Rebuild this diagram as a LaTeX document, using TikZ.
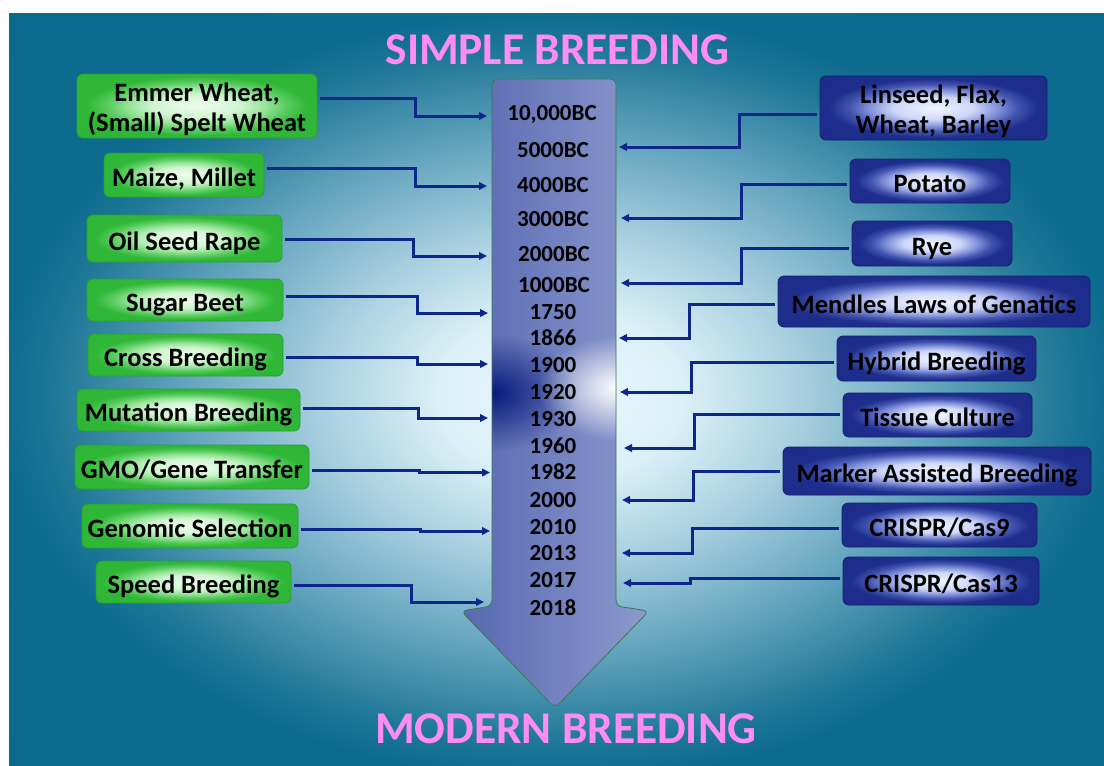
\documentclass[tikz,border=0pt]{standalone}
\usepackage{fontspec}
\setmainfont{Carlito}
\usetikzlibrary{arrows.meta,fadings}
\definecolor{titlepink}{RGB}{255,140,240}
\definecolor{connblue}{RGB}{12,38,138}
\definecolor{arrL}{RGB}{88,104,176}
\definecolor{arrR}{RGB}{140,154,206}
\definecolor{arrEdge}{RGB}{60,120,75}
\definecolor{spotdark}{RGB}{10,28,125}
\definecolor{gEdge}{RGB}{40,160,50}
\definecolor{bEdge}{RGB}{20,32,110}
\pgfdeclareradialshading{bgrad}{\pgfpointorigin}{rgb(0bp)=(0.92,0.98,1.0); rgb(5.5bp)=(0.86,0.94,0.97); rgb(10.5bp)=(0.67,0.82,0.88); rgb(16.5bp)=(0.40,0.65,0.75); rgb(22.5bp)=(0.12,0.47,0.59); rgb(25bp)=(0.05,0.42,0.56); rgb(50bp)=(0.04,0.40,0.55)}
\pgfdeclareradialshading{greenrad}{\pgfpointorigin}{rgb(0bp)=(0.93,0.99,0.93); rgb(9bp)=(0.82,0.96,0.82); rgb(14bp)=(0.60,0.90,0.61); rgb(18.5bp)=(0.36,0.80,0.38); rgb(23bp)=(0.19,0.72,0.22); rgb(50bp)=(0.17,0.70,0.20)}
\pgfdeclareradialshading{bluerad}{\pgfpointorigin}{rgb(0bp)=(0.94,0.96,1.0); rgb(9bp)=(0.80,0.84,0.97); rgb(14bp)=(0.52,0.58,0.86); rgb(18.5bp)=(0.26,0.33,0.69); rgb(23bp)=(0.12,0.18,0.55); rgb(50bp)=(0.10,0.16,0.52)}
\tikzfading[name=spotfade, inner color=transparent!0, outer color=transparent!100]
\tikzset{
  boxfont/.style={font=\fontsize{26.5}{30}\selectfont\bfseries, text=black, align=center},
  oneline/.style={text height=23pt, text depth=0pt},
  gbox/.style={boxfont, shade, shading=greenrad, draw=gEdge, line width=0.8pt, rounded corners=6pt, inner sep=0pt},
  bbox/.style={boxfont, shade, shading=bluerad, draw=bEdge, line width=0.8pt, rounded corners=6pt, inner sep=0pt},
  yr/.style={font=\fontsize{23}{25}\selectfont\bfseries, text=black, inner sep=0pt},
  titletext/.style={font=\fontsize{45.4}{50}\selectfont\bfseries, text=titlepink, inner sep=0pt, anchor=base},
  conn/.style={draw=connblue, line width=3pt, -{Stealth[length=8pt,width=7.5pt,inset=0pt]}, shorten <=3pt}
}
\newcommand{\topstrut}{\rule{0pt}{27pt}}
\newcommand{\botstrut}{\rule[-6pt]{0pt}{6pt}}
\def\arrowpath{(554,79) -- (616,79) -- (616,606) -- (649,611) -- (555,708) -- (461,611) -- (492,606) -- (492,79) -- cycle}
\begin{document}
\begin{tikzpicture}[x=1pt,y=-1pt]
\useasboundingbox (0,0) rectangle (1104,766);
\fill[white] (0,0) rectangle (1104,766);
% background
\begin{scope}
  \clip (9,13) rectangle (1104,766);
  \shade[shading=bgrad] (0,10) rectangle (1120,780);
\end{scope}
% big arrow
\shade[left color=arrL, right color=arrR, rounded corners=6pt] \arrowpath;
\begin{scope}
  \clip[rounded corners=6pt] \arrowpath;
  \fill[spotdark, path fading=spotfade] (494,393) ellipse [x radius=85, y radius=58];
  \fill[white, path fading=spotfade] (618,388) ellipse [x radius=80, y radius=52];
\end{scope}
\draw[arrEdge, line width=0.8pt, rounded corners=6pt] \arrowpath;
% titles
\node[titletext] (t1) at (557.5,64) {SIMPLE BREEDING};
\node[titletext] (t2) at (566,743) {MODERN BREEDING};
% years
\node[yr] (y1) at (552,115) {10,000BC};
\node[yr] (y2) at (553,150) {5000BC};
\node[yr] (y3) at (553,185) {4000BC};
\node[yr] (y4) at (553,219) {3000BC};
\node[yr] (y5) at (554,254) {2000BC};
\node[yr] (y6) at (554,285) {1000BC};
\node[yr] (y7) at (553,312) {1750};
\node[yr] (y8) at (553,338) {1866};
\node[yr] (y9) at (553,365) {1900};
\node[yr] (y10) at (553,392) {1920};
\node[yr] (y11) at (553,419) {1930};
\node[yr] (y12) at (553,446) {1960};
\node[yr] (y13) at (553,472) {1982};
\node[yr] (y14) at (553,500) {2000};
\node[yr] (y15) at (553,527) {2010};
\node[yr] (y16) at (553,553) {2013};
\node[yr] (y17) at (553,580) {2017};
\node[yr] (y18) at (553,608) {2018};
% left boxes
\node[gbox, minimum width=240pt, minimum height=64pt] (g1) at (197,106) {\topstrut Emmer Wheat,\\(Small) Spelt Wheat\botstrut};
\node[gbox, oneline, minimum width=160pt, minimum height=44pt] (g2) at (184,175) {Maize, Millet};
\node[gbox, oneline, minimum width=195pt, minimum height=47pt] (g3) at (184.5,238.5) {Oil Seed Rape};
\node[gbox, oneline, minimum width=196pt, minimum height=42pt] (g4) at (185,300) {Sugar Beet};
\node[gbox, oneline, minimum width=195pt, minimum height=42pt] (g5) at (185.5,355) {Cross Breeding};
\node[gbox, oneline, minimum width=223pt, minimum height=42pt] (g6) at (188.5,410) {Mutation Breeding};
\node[gbox, oneline, minimum width=234pt, minimum height=44pt] (g7) at (192,467) {GMO/Gene Transfer};
\node[gbox, oneline, minimum width=216pt, minimum height=44pt] (g8) at (190,526) {Genomic Selection};
\node[gbox, oneline, minimum width=195pt, minimum height=42pt] (g9) at (193.5,582) {Speed Breeding};
% right boxes
\node[bbox, minimum width=227pt, minimum height=64pt] (b1) at (933.5,108) {\topstrut Linseed, Flax,\\Wheat, Barley\botstrut};
\node[bbox, oneline, minimum width=160pt, minimum height=44pt] (b2) at (930,181) {Potato};
\node[bbox, oneline, minimum width=160pt, minimum height=45pt] (b3) at (932,243.5) {Rye};
\node[bbox, oneline, minimum width=312pt, minimum height=51pt] (b4) at (934,301.5) {Mendles Laws of Genatics};
\node[bbox, oneline, minimum width=199pt, minimum height=45pt] (b5) at (936.5,358.5) {Hybrid Breeding};
\node[bbox, oneline, minimum width=189pt, minimum height=44pt] (b6) at (937.5,415) {Tissue Culture};
\node[bbox, oneline, minimum width=308pt, minimum height=48pt] (b7) at (937,471) {Marker Assisted Breeding};
\node[bbox, oneline, minimum width=195pt, minimum height=44pt] (b8) at (939.5,525) {CRISPR/Cas9};
\node[bbox, oneline, minimum width=196pt, minimum height=48pt] (b9) at (941,581) {CRISPR/Cas13};
% connector end points at the big arrow
\coordinate (l1) at (487,116);
\coordinate (l2) at (487,186);
\coordinate (l3) at (487,256);
\coordinate (l4) at (488,313);
\coordinate (l5) at (488,364);
\coordinate (l6) at (488,418);
\coordinate (l7) at (490,472.5);
\coordinate (l8) at (490,531);
\coordinate (l9) at (484,602);
\coordinate (r1) at (619,147);
\coordinate (r2) at (621,218);
\coordinate (r3) at (621,283);
\coordinate (r4) at (619,338);
\coordinate (r5) at (620,392);
\coordinate (r6) at (624,448);
\coordinate (r7) at (622,500);
\coordinate (r8) at (622,553);
\coordinate (r9) at (623,583);
% left connectors
\draw[conn] (g1.east |- 0,98.6) -- (415,98.6) |- (l1);
\draw[conn] (g2.east |- 0,168) -- (415,168) |- (l2);
\draw[conn] (g3.east |- 0,239) -- (413,239) |- (l3);
\draw[conn] (g4.east |- 0,296) -- (417,296) |- (l4);
\draw[conn] (g5.east |- 0,357) -- (417,357) |- (l5);
\draw[conn] (g6.east |- 0,408) -- (418,408) |- (l6);
\draw[conn] (g7.east |- 0,470) -- (419,470) |- (l7);
\draw[conn] (g8.east |- 0,529.5) -- (420,529.5) |- (l8);
\draw[conn] (g9.east |- 0,585) -- (411,585) |- (l9);
% right connectors
\draw[conn] (b1.west |- 0,114) -- (739,114) |- (r1);
\draw[conn] (b2.west |- 0,184) -- (741,184) |- (r2);
\draw[conn] (b3.west |- 0,248) -- (741,248) |- (r3);
\draw[conn] (b4.west |- 0,304) -- (689,304) |- (r4);
\draw[conn] (b5.west |- 0,362) -- (691,362) |- (r5);
\draw[conn] (b6.west |- 0,414) -- (694,414) |- (r6);
\draw[conn] (b7.west |- 0,471) -- (693,471) |- (r7);
\draw[conn] (b8.west |- 0,528) -- (692,528) |- (r8);
\draw[conn] (b9.west |- 0,578) -- (690,578) |- (r9);
\end{tikzpicture}
\end{document}
